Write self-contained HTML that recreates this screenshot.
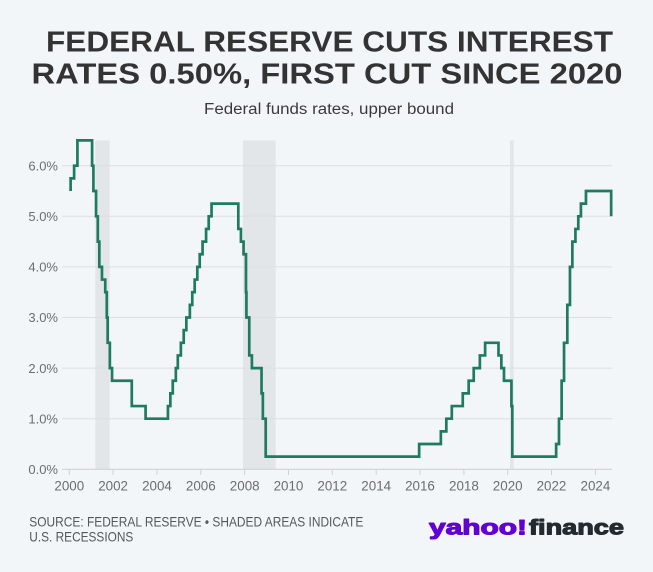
<!DOCTYPE html>
<html>
<head>
<meta charset="utf-8">
<style>
html,body{margin:0;padding:0;background:#f3f6f9;}
svg{display:block;}
text{font-family:"Liberation Sans",Arial,sans-serif;}
</style>
</head>
<body>
<svg width="653" height="572" viewBox="0 0 653 572" xmlns="http://www.w3.org/2000/svg">
<rect x="0" y="0" width="653" height="572" fill="#f3f6f9"/>

<!-- Title -->
<text x="46" y="51.7" font-size="28.5" font-weight="bold" fill="#333333" textLength="567" lengthAdjust="spacingAndGlyphs">FEDERAL RESERVE CUTS INTEREST</text>
<text x="31.5" y="83.3" font-size="28.5" font-weight="bold" fill="#333333" textLength="591" lengthAdjust="spacingAndGlyphs">RATES 0.50%, FIRST CUT SINCE 2020</text>
<text x="204" y="114" font-size="15.5" fill="#3a3a3a" textLength="250" lengthAdjust="spacingAndGlyphs">Federal funds rates, upper bound</text>

<!-- Recession shading -->
<g fill="#e3e6e9">
<rect x="95.3" y="140.4" width="14.4" height="328.9"/>
<rect x="243" y="140.4" width="32.7" height="328.9"/>
<rect x="510" y="140.4" width="3.7" height="328.9"/>
</g>

<!-- Gridlines -->
<g stroke="#dcdfe2" stroke-width="1">
<line x1="62" x2="612" y1="418.7" y2="418.7"/>
<line x1="62" x2="612" y1="368.1" y2="368.1"/>
<line x1="62" x2="612" y1="317.5" y2="317.5"/>
<line x1="62" x2="612" y1="266.9" y2="266.9"/>
<line x1="62" x2="612" y1="216.3" y2="216.3"/>
<line x1="62" x2="612" y1="165.7" y2="165.7"/>
</g>
<!-- x axis -->
<line x1="62" x2="612" y1="469.3" y2="469.3" stroke="#cfd2d5" stroke-width="1.2"/>
<g stroke="#cfd2d5" stroke-width="1">
<line x1="69.3" x2="69.3" y1="469.3" y2="475"/>
<line x1="113.1" x2="113.1" y1="469.3" y2="475"/>
<line x1="157" x2="157" y1="469.3" y2="475"/>
<line x1="200.8" x2="200.8" y1="469.3" y2="475"/>
<line x1="244.7" x2="244.7" y1="469.3" y2="475"/>
<line x1="288.5" x2="288.5" y1="469.3" y2="475"/>
<line x1="332.3" x2="332.3" y1="469.3" y2="475"/>
<line x1="376.2" x2="376.2" y1="469.3" y2="475"/>
<line x1="420" x2="420" y1="469.3" y2="475"/>
<line x1="463.9" x2="463.9" y1="469.3" y2="475"/>
<line x1="507.7" x2="507.7" y1="469.3" y2="475"/>
<line x1="551.5" x2="551.5" y1="469.3" y2="475"/>
<line x1="595.4" x2="595.4" y1="469.3" y2="475"/>
</g>

<!-- Y labels -->
<g font-size="13" fill="#6b6e71" text-anchor="end">
<text x="58" y="474">0.0%</text>
<text x="58" y="423.4">1.0%</text>
<text x="58" y="372.8">2.0%</text>
<text x="58" y="322.2">3.0%</text>
<text x="58" y="271.6">4.0%</text>
<text x="58" y="221">5.0%</text>
<text x="58" y="170.4">6.0%</text>
</g>
<!-- X labels -->
<g font-size="13.4" fill="#6b6e71" text-anchor="middle">
<text x="69.3" y="490.5">2000</text>
<text x="113.1" y="490.5">2002</text>
<text x="157" y="490.5">2004</text>
<text x="200.8" y="490.5">2006</text>
<text x="244.7" y="490.5">2008</text>
<text x="288.5" y="490.5">2010</text>
<text x="332.3" y="490.5">2012</text>
<text x="376.2" y="490.5">2014</text>
<text x="420" y="490.5">2016</text>
<text x="463.9" y="490.5">2018</text>
<text x="507.7" y="490.5">2020</text>
<text x="551.5" y="490.5">2022</text>
<text x="595.4" y="490.5">2024</text>
</g>

<!-- Series -->
<g transform="translate(69.3,469.3) scale(21.92,-50.6)">
<path fill="none" stroke="#1f7a62" stroke-width="2.7" vector-effect="non-scaling-stroke" stroke-linejoin="miter" stroke-linecap="butt"
d="M0.06 5.5 V5.75 H0.22 V6 H0.37 V6.5 H1.04 V6 H1.1 V5.5 H1.22 V5 H1.30 V4.5 H1.37 V4 H1.49 V3.75 H1.64 V3.5 H1.71 V3 H1.75 V2.5 H1.85 V2 H1.95 V1.75 H2.85 V1.25 H3.48 V1 H4.50 V1.25 H4.61 V1.5 H4.72 V1.75 H4.86 V2 H4.95 V2.25 H5.09 V2.5 H5.22 V2.75 H5.34 V3 H5.50 V3.25 H5.61 V3.5 H5.72 V3.75 H5.84 V4 H5.95 V4.25 H6.08 V4.5 H6.24 V4.75 H6.36 V5 H6.49 V5.25 H7.71 V4.75 H7.83 V4.5 H7.95 V4.25 H8.06 V3.5 H8.08 V3 H8.21 V2.25 H8.33 V2 H8.77 V1.5 H8.83 V1 H8.96 V0.25 H15.96 V0.5 H16.95 V0.75 H17.20 V1 H17.45 V1.25 H17.95 V1.5 H18.22 V1.75 H18.45 V2 H18.73 V2.25 H18.97 V2.5 H19.58 V2.25 H19.71 V2 H19.83 V1.75 H20.17 V1.25 H20.21 V0.25 H22.21 V0.5 H22.34 V1 H22.46 V1.75 H22.57 V2.5 H22.72 V3.25 H22.84 V4 H22.95 V4.5 H23.09 V4.75 H23.22 V5 H23.34 V5.25 H23.57 V5.5 H24.72 V5"/>
</g>

<!-- Footer -->
<text x="29.3" y="526.7" font-size="13.7" fill="#55585b" textLength="334" lengthAdjust="spacingAndGlyphs">SOURCE: FEDERAL RESERVE • SHADED AREAS INDICATE</text>
<text x="29.3" y="541.7" font-size="13.7" fill="#55585b" textLength="104" lengthAdjust="spacingAndGlyphs">U.S. RECESSIONS</text>

<!-- Logo -->
<text x="429" y="534.3" font-size="21.5" font-weight="bold" fill="#6001d2" stroke="#6001d2" stroke-width="1.1" stroke-linejoin="round" textLength="98" lengthAdjust="spacingAndGlyphs">yahoo!</text>
<text x="529" y="534.3" font-size="21.5" font-weight="bold" fill="#232a31" stroke="#232a31" stroke-width="1.1" stroke-linejoin="round" textLength="95" lengthAdjust="spacingAndGlyphs">finance</text>
</svg>
</body>
</html>
